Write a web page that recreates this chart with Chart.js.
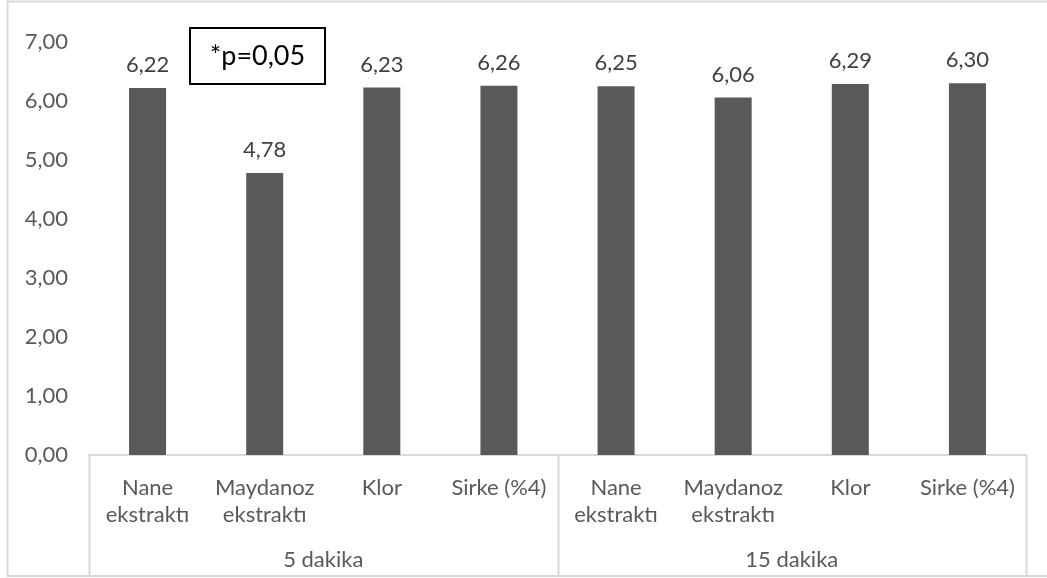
<!DOCTYPE html>
<html>
<head>
<meta charset="utf-8">
<script src="https://cdn.jsdelivr.net/npm/chart.js@4.4.1/dist/chart.umd.min.js"></script>
<style>
  html, body { margin: 0; padding: 0; background: #fff; }
  #wrap { width: 1047px; height: 578px; position: relative; }
</style>
</head>
<body>
<div id="wrap"><canvas id="graph"></canvas></div>
<script>
// Kategoriler (alt düzey) ve gruplar (üst düzey)
const treatments = [
  ["Nane", "ekstraktı"], ["Maydanoz", "ekstraktı"], "Klor", "Sirke (%4)",
  ["Nane", "ekstraktı"], ["Maydanoz", "ekstraktı"], "Klor", "Sirke (%4)"
];
const groups = ["5 dakika", "15 dakika"];
const groupSize = 4;

// Ortalama değerler
const values = [6.22, 4.78, 6.23, 6.26, 6.25, 6.06, 6.29, 6.30];

// Y ekseni
const yMin = 0;
const yMax = 7;
const yStep = 1;

const noteText = "*p=0,05";

const FONT = "Lato, 'Open Sans', sans-serif";
const SIZE = 22;
const fmt = (v) => v.toFixed(2).replace(".", ",");

// Dış çerçeve
const frame = {
  id: "frame",
  beforeDraw(chart) {
    const { ctx, width, height } = chart;
    ctx.save();
    ctx.fillStyle = "#fff";
    ctx.fillRect(0, 0, width, height);
    ctx.strokeStyle = "#d9d9d9";
    ctx.lineWidth = 2;
    ctx.beginPath();
    ctx.moveTo(width + 2, 1.5);
    ctx.lineTo(7.5, 1.5);
    ctx.lineTo(7.5, height - 2);
    ctx.lineTo(width + 2, height - 2);
    ctx.stroke();
    ctx.restore();
  }
};

// Çubuk üstü değer etiketleri
const valueLabels = {
  id: "valueLabels",
  afterDatasetsDraw(chart) {
    const { ctx } = chart;
    const meta = chart.getDatasetMeta(0);
    ctx.save();
    ctx.font = SIZE + "px " + FONT;
    ctx.fillStyle = "#404040";
    ctx.textAlign = "center";
    ctx.textBaseline = "middle";
    meta.data.forEach((bar, i) => {
      ctx.fillText(fmt(values[i]), bar.x, bar.y - 23);
    });
    ctx.restore();
  }
};

// İki düzeyli kategori ekseni: grup ayraçları ve grup adları
const groupAxis = {
  id: "groupAxis",
  afterDraw(chart) {
    const { ctx, chartArea, scales } = chart;
    const x = scales.x;
    const bottom = chart.height - 2;
    const half = (x.getPixelForValue(1) - x.getPixelForValue(0)) / 2;
    ctx.save();
    ctx.strokeStyle = "#d9d9d9";
    ctx.lineWidth = 2;
    const edges = [];
    for (let g = 0; g <= groups.length; g++) {
      const idx = g * groupSize;
      edges.push(idx < values.length
        ? x.getPixelForValue(idx) - half
        : x.getPixelForValue(values.length - 1) + half);
    }
    edges.forEach((px) => {
      ctx.beginPath();
      ctx.moveTo(Math.round(px) + 0.5, chartArea.bottom);
      ctx.lineTo(Math.round(px) + 0.5, bottom);
      ctx.stroke();
    });
    ctx.font = SIZE + "px " + FONT;
    ctx.fillStyle = "#595959";
    ctx.textAlign = "center";
    ctx.textBaseline = "middle";
    groups.forEach((name, g) => {
      ctx.fillText(name, (edges[g] + edges[g + 1]) / 2, 560);
    });
    ctx.restore();
  }
};

// Not kutusu
const noteBox = {
  id: "noteBox",
  afterDraw(chart) {
    const { ctx } = chart;
    ctx.save();
    ctx.fillStyle = "#fff";
    ctx.fillRect(189, 27, 137, 58);
    ctx.strokeStyle = "#000";
    ctx.lineWidth = 2;
    ctx.strokeRect(190, 28, 135, 56);
    ctx.font = "27px " + FONT;
    ctx.fillStyle = "#000";
    ctx.textAlign = "center";
    ctx.textBaseline = "middle";
    ctx.fillText(noteText, 257.5, 56);
    ctx.restore();
  }
};

const config = {
  type: "bar",
  data: {
    labels: treatments,
    datasets: [{
      data: values,
      backgroundColor: "#595959",
      borderWidth: 0,
      barPercentage: 0.316,
      categoryPercentage: 1
    }]
  },
  options: {
    responsive: false,
    animation: false,
    devicePixelRatio: 1,
    layout: { padding: { top: 42, right: 21, left: 0, bottom: 0 } },
    plugins: {
      legend: { display: false },
      tooltip: { enabled: false }
    },
    scales: {
      x: {
        grid: { display: false },
        border: { display: true, color: "#d9d9d9", width: 2 },
        ticks: {
          color: "#595959",
          font: { family: FONT, size: SIZE, lineHeight: 1.2 },
          padding: 12,
          maxRotation: 0,
          autoSkip: false
        },
        afterFit(scale) { scale.height = 123; }
      },
      y: {
        min: yMin,
        max: yMax,
        grid: { display: false },
        border: { display: false },
        ticks: {
          stepSize: yStep,
          color: "#595959",
          font: { family: FONT, size: SIZE },
          padding: 13,
          callback: (v) => fmt(v)
        },
        afterFit(scale) { scale.width = 89; }
      }
    }
  },
  plugins: [frame, valueLabels, groupAxis, noteBox]
};

const canvas = document.getElementById("graph");
canvas.width = 1047;
canvas.height = 578;
new Chart(canvas, config);
</script>
</body>
</html>
